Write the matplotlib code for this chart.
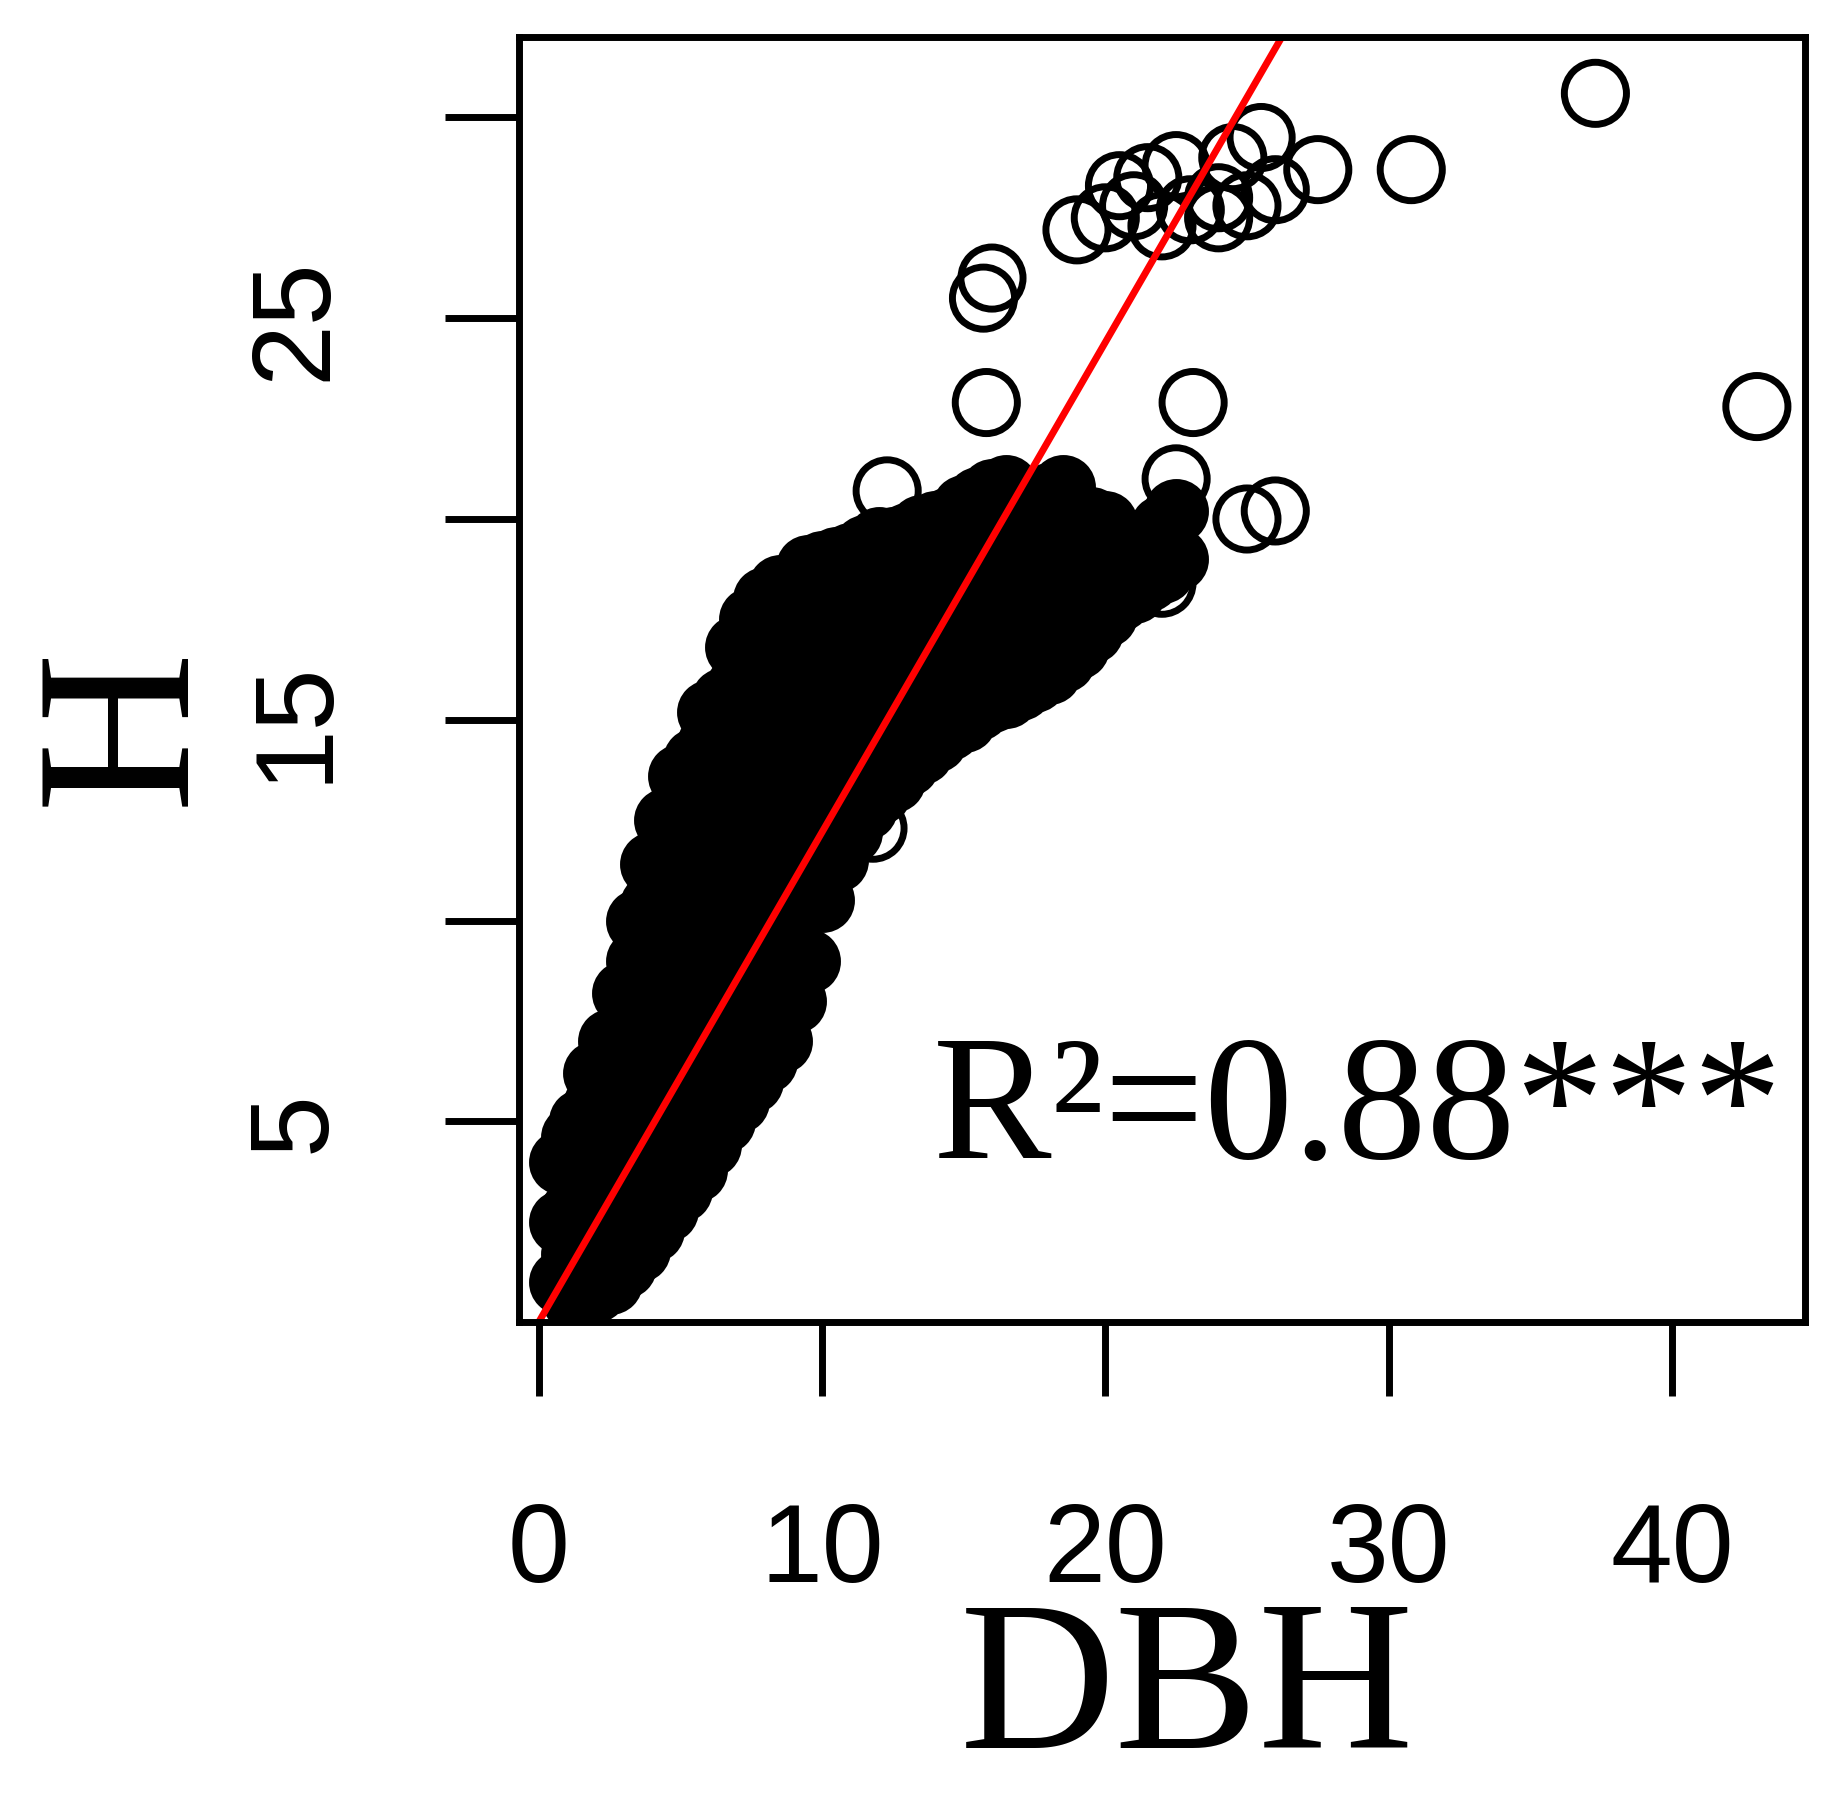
import matplotlib
matplotlib.use("Agg")
import matplotlib.pyplot as plt
from matplotlib import font_manager as fm


def find_font(stem, fallback):
    # pick the font file directly so the face cannot silently swap
    for path in fm.findSystemFonts():
        if path.split("/")[-1] == stem:
            return fm.FontProperties(fname=path)
    return fm.FontProperties(family=fallback)


SANS = find_font("LiberationSans-Regular.ttf", "sans-serif")
SERIF = find_font("LiberationSerif-Regular.ttf", "serif")

# DBH columns with heights
cloud = {
    0.8: [1, 2.5, 4],
    1.2: [0.6, 1.7, 2.8, 3.9, 4.6],
    1.5: [0.8, 2, 3.5, 5],
    2.0: [0.8, 1.8, 3, 4.2, 5.4, 6.2],
    2.5: [1, 2.5, 4, 5.5, 7],
    3.0: [1.4, 2.4, 3.6, 4.8, 6, 7.2, 8.2],
    3.5: [1.8, 3, 4.5, 6, 7.5, 9, 10],
    4.0: [2.3, 3.5, 4.8, 6.2, 7.6, 9, 10.4, 11.4],
    4.5: [2.8, 4, 5.5, 7, 8.5, 10, 11.5, 12.5],
    5.0: [3.3, 4.5, 5.8, 7.2, 8.6, 10, 11.4, 12.8, 13.6],
    5.5: [3.8, 5, 6.5, 8, 9.5, 11, 12.5, 14],
    6.0: [4.4, 5.7, 7.1, 8.6, 10, 11.5, 13, 14.4, 15.2],
    6.5: [5, 6.5, 8, 9.5, 11, 12.5, 14, 15.5],
    7.0: [5.5, 6.8, 8.3, 9.8, 11.3, 12.8, 14.3, 15.8, 16.8],
    7.5: [6, 7.5, 9, 10.5, 12, 13.5, 15, 16.5, 17.5],
    8.0: [6.5, 7.8, 9.3, 10.8, 12.3, 13.8, 15.3, 16.8, 18],
    8.5: [7, 8.5, 10, 11.5, 13, 14.5, 16, 17.5, 18.3],
    9.0: [8, 9.3, 10.8, 12.3, 13.8, 15.3, 16.8, 18.3],
    9.5: [9, 10.5, 12, 13.5, 15, 16.5, 18, 18.8],
    10.0: [10.5, 11.8, 13.3, 14.8, 16.3, 17.8, 18.9],
    10.5: [11.5, 13, 14.5, 16, 17.5, 19],
    11.0: [12.2, 13.5, 14.8, 16.3, 17.8, 19.1],
    11.5: [12.8, 14, 15.5, 17, 18.5, 19.3],
    12.0: [13.2, 14.5, 15.8, 17.3, 18.8, 19.5],
    12.5: [13.5, 15, 16.5, 18, 19.5],
    13.0: [13.9, 15.2, 16.7, 18.2, 19.6],
    13.5: [14.2, 15.5, 17, 18.5, 19.8],
    14.0: [14.5, 15.8, 17.3, 18.8, 19.9],
    14.5: [14.8, 16, 17.5, 19, 20],
    15.0: [15, 16.3, 17.8, 19.3, 20.3],
    15.5: [15.3, 16.5, 18, 19.5, 20.5],
    16.0: [15.5, 16.8, 18.3, 19.8, 20.7],
    16.5: [15.6, 17, 18.5, 20, 20.8],
    17.0: [15.8, 17.2, 18.7, 20.2],
    17.5: [16, 17.5, 19, 20.5],
    18.0: [16.2, 17.7, 19.2, 20.6],
    18.5: [16.5, 18, 19.5, 20.8],
    19.0: [16.8, 18.2, 19.7],
    19.5: [17.2, 18.5, 20],
    20.0: [17.6, 18.8, 19.9],
    20.5: [18, 19.2],
    21.0: [18.2, 19.3],
    21.5: [18.5, 19.5],
    22.0: [18.7, 19.8],
    22.5: [19, 20.2],
}
extra_dbh = [12.3, 15.8, 15.7, 16, 23.1, 22.5, 25, 26, 22, 14, 11.8, 9.5,
             19, 20, 21, 21.5, 22, 22.5, 23, 24, 24.5, 25, 25.5, 26, 20.5,
             27.5, 30.8, 37.3, 43, 24]
extra_h = [20.7, 22.9, 25.5, 26, 22.9, 21, 20, 20.2, 18.4, 14.7, 12.3, 10.6,
           27.2, 27.5, 27.8, 28.5, 27.3, 28.8, 27.7, 28, 29, 27.8, 29.5, 28.2, 28.3,
           28.7, 28.7, 30.6, 22.8, 27.5]

cloud_dbh = [x for x, hs in cloud.items() for _ in hs]
cloud_h = [v for hs in cloud.values() for v in hs]

slope = 1.22
intercept = 0.0

fig = plt.figure(figsize=(18.4, 18.15), dpi=100)
ax = fig.add_axes([0.282, 0.271, 0.699, 0.708])
# dense core: thousands of overlapping rings in the original, drawn here as heavy rings
ax.scatter(cloud_dbh, cloud_h, s=1500, facecolors="black", edgecolors="black", linewidths=8)
ax.scatter(extra_dbh, extra_h, s=2000, facecolors="none", edgecolors="black", linewidths=5)
xl = [-0.7, 44.7]
ax.plot(xl, [intercept + slope * x for x in xl], color="red", lw=5)
ax.set_xlim(-0.7, 44.7)
ax.set_ylim(0, 32)

ax.set_xticks([0, 10, 20, 30, 40])
ax.set_yticks([5, 10, 15, 20, 25, 30])
ax.set_yticklabels(["5", "", "15", "", "25", ""], rotation=90, va="center")
ax.tick_params(direction="out", length=53, width=5, pad=75)
ax.tick_params(axis="y", pad=70)
for lab in ax.get_xticklabels() + ax.get_yticklabels():
    lab.set_fontproperties(SANS)
    lab.set_fontsize(80)
for sp in ax.spines.values():
    sp.set_linewidth(5)

ax.text(13.9, 4.1, "R²=0.88***", fontproperties=SERIF, fontsize=128)
fig.text(0.645, 0.065, "DBH", fontproperties=SERIF, fontsize=155, ha="center", va="center")
fig.text(0.07, 0.60, "H", fontproperties=SERIF, fontsize=160, ha="center", va="center", rotation=90)

fig.savefig("out.png", dpi=100)
